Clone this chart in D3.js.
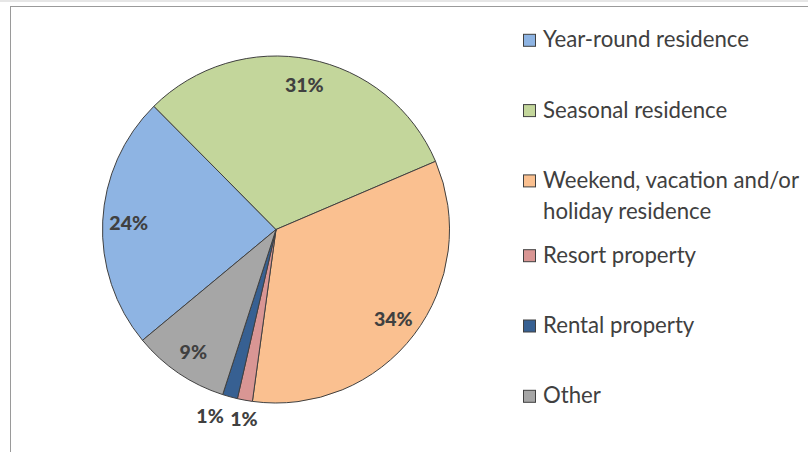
<!DOCTYPE html>
<html>
<head>
<meta charset="utf-8">
<script src="https://cdn.jsdelivr.net/npm/d3@7"></script>
<style>
  html, body { margin: 0; padding: 0; background: #fff; }
  svg { display: block; }
</style>
</head>
<body>
<svg id="chart" width="808" height="452"></svg>
<script>
// ---- data ----
const categories = [
  "Year-round residence",
  "Seasonal residence",
  "Weekend, vacation and/or holiday residence",
  "Resort property",
  "Rental property",
  "Other"
];
const legendLines = [
  ["Year-round residence"],
  ["Seasonal residence"],
  ["Weekend, vacation and/or", "holiday residence"],
  ["Resort property"],
  ["Rental property"],
  ["Other"]
];
const shares = [23.6, 31.0, 33.6, 1.4, 1.4, 9.0];
const colors = ["#8EB4E3", "#C3D69B", "#FAC090", "#D99694", "#376092", "#A6A6A6"];

// ---- layout ----
const W = 808, H = 452;
const cx = 276, cy = 229.5, R = 173.5;
const startDeg = 230.3;
const svg = d3.select("#chart");

// top strip + chart frame
svg.append("rect").attr("x", 0).attr("y", 0).attr("width", W).attr("height", 2).attr("fill", "#e6e6e6");
svg.append("rect").attr("x", 10.5).attr("y", 6.5).attr("width", W + 20).attr("height", H + 20)
  .attr("fill", "#fff").attr("stroke", "#9a9a9a").attr("stroke-width", 1);

const data = categories.map((c, i) => ({ name: c, value: shares[i], color: colors[i] }));
const total = d3.sum(shares);
const startA = startDeg * Math.PI / 180;
const pie = d3.pie().value(d => d.value).sort(null)
  .startAngle(startA).endAngle(startA + 2 * Math.PI);
const arcs = pie(data);
const arc = d3.arc().innerRadius(0).outerRadius(R);

const g = svg.append("g").attr("transform", `translate(${cx},${cy})`);
g.selectAll("path.slice").data(arcs).enter().append("path")
  .attr("class", "slice")
  .attr("d", arc)
  .attr("fill", d => d.data.color)
  .attr("stroke", "#404040")
  .attr("stroke-width", 1)
  .attr("stroke-linejoin", "round");

// labels
const fmt = d3.format(".0f");
const inR = R * 0.85;
// outside-label nudges for thin slices (angle offset in rad, radius factor)
const outsideNudge = [{ da: -0.012, rf: 1.105 }, { da: 0.073, rf: 1.135 }];
let smallIdx = 0;
arcs.forEach((d, i) => {
  const pct = d.value / total * 100;
  let a = (d.startAngle + d.endAngle) / 2;
  let r = inR;
  if (pct < 3) {
    const n = outsideNudge[Math.min(smallIdx, outsideNudge.length - 1)];
    a += n.da;
    r = R * n.rf;
    smallIdx++;
  }
  const x = r * Math.sin(a), y = -r * Math.cos(a);
  g.append("text")
    .attr("x", x).attr("y", y)
    .attr("text-anchor", "middle")
    .attr("dominant-baseline", "central")
    .attr("font-family", "Lato, 'Open Sans', sans-serif")
    .attr("font-weight", "900")
    .attr("font-size", 19.5)
    .attr("fill", "#404040")
    .text(fmt(pct) + "%");
});

// legend
const lgX = 523.5, lgTextX = 543;
const base0 = 47.3, step = 70.3, lineH = 31, extraAfterWrap = 4.5;
let extra = 0;
legendLines.forEach((lines, i) => {
  const base = base0 + i * step + extra;
  svg.append("rect")
    .attr("x", lgX).attr("y", base - 13)
    .attr("width", 12).attr("height", 12)
    .attr("fill", colors[i]).attr("stroke", "#404040").attr("stroke-width", 1);
  const t = svg.append("text")
    .attr("x", lgTextX).attr("y", base)
    .attr("font-family", "Lato, 'Open Sans', sans-serif")
    .attr("font-size", 22.2)
    .attr("fill", "#404040");
  lines.forEach((ln, j) => {
    t.append("tspan").attr("x", lgTextX).attr("y", base + j * lineH).text(ln);
  });
  if (lines.length > 1) extra += extraAfterWrap;
});
</script>
</body>
</html>
